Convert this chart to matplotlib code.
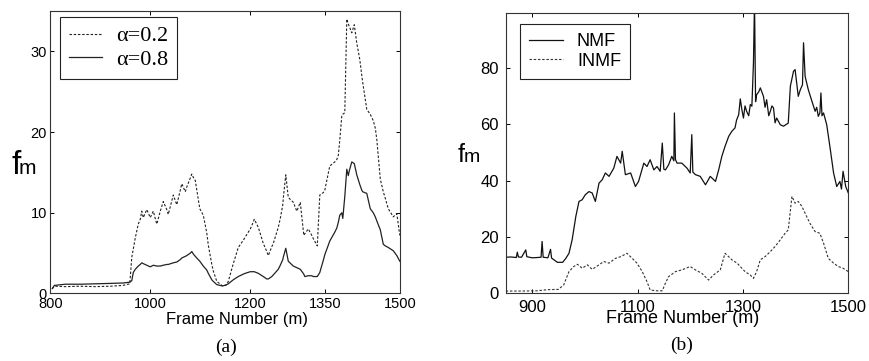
import matplotlib
matplotlib.use("Agg")
import matplotlib.pyplot as plt

# ---- panel (a): f_m for two alpha values ----
frames_a = [804, 808, 830, 860, 890, 920, 945, 959, 963, 966, 970, 976, 980, 983, 986,
            993, 1000, 1006, 1013, 1020, 1026, 1033, 1036, 1046, 1053, 1060, 1063, 1070,
            1073, 1080, 1083, 1086, 1090, 1099, 1106, 1113, 1116, 1123, 1126, 1133, 1143,
            1146, 1153, 1156, 1166, 1176, 1186, 1190, 1200, 1203, 1208, 1216, 1226, 1233,
            1236, 1243, 1246, 1256, 1260, 1265, 1266, 1271, 1276, 1286, 1293, 1300, 1307,
            1309, 1316, 1323, 1326, 1333, 1334, 1339, 1346, 1349, 1359, 1369, 1373, 1376,
            1379, 1383, 1385, 1389, 1393, 1396, 1398, 1403, 1408, 1413, 1419, 1423, 1425,
            1433, 1440, 1446, 1450, 1453, 1460, 1466, 1470, 1476, 1486, 1493, 1499]
alpha_08 = [0.6, 1.0, 1.15, 1.15, 1.2, 1.25, 1.3, 1.4, 1.6, 2.6, 3.0, 3.4, 3.6, 3.8, 3.7,
            3.5, 3.3, 3.5, 3.4, 3.4, 3.5, 3.6, 3.6, 3.8, 3.9, 4.2, 4.4, 4.6,
            4.7, 5.0, 5.2, 4.9, 4.6, 4.0, 3.4, 2.9, 2.5, 1.7, 1.5, 1.1, 0.95,
            0.95, 1.1, 1.2, 1.7, 2.1, 2.4, 2.5, 2.7, 2.7, 2.7, 2.5, 2.1, 1.8,
            1.8, 2.1, 2.3, 3.0, 3.5, 4.2, 4.5, 5.6, 4.0, 3.4, 3.2, 3.0, 2.4,
            2.1, 2.2, 2.2, 2.1, 2.1, 2.1, 2.6, 4.1, 4.8, 6.5, 7.6, 8.1, 8.8,
            9.7, 10.0, 9.3, 12.0, 15.4, 14.6, 15.2, 16.3, 16.1, 14.7, 13.5, 12.8, 12.6,
            12.4, 10.5, 10.0, 9.5, 9.0, 7.9, 6.1, 5.9, 5.7, 5.3, 4.7, 4.0]
alpha_02 = [0.6, 0.9, 0.85, 0.9, 0.85, 0.9, 1.0, 1.2, 4.5, 5.5, 6.9, 8.6, 9.2, 10.2, 9.4,
            10.4, 9.4, 10.2, 8.6, 10.2, 11.4, 10.4, 9.8, 12.2, 11.0, 12.8, 13.6, 12.6,
            13.2, 14.3, 14.8, 14.4, 14.0, 10.5, 9.7, 7.5, 6.0, 3.6, 2.8, 1.5, 1.0,
            0.9, 1.1, 1.5, 3.7, 5.7, 6.6, 7.0, 8.0, 8.4, 9.2, 8.2, 6.2, 5.2,
            4.7, 5.8, 6.2, 8.2, 9.3, 11.0, 11.8, 14.7, 11.9, 11.3, 10.2, 11.3, 7.2,
            7.4, 8.0, 7.2, 6.8, 6.0, 5.9, 12.2, 12.5, 12.8, 15.8, 16.3, 16.6, 17.1,
            19.0, 22.0, 22.2, 22.4, 34.0, 33.4, 33.1, 32.3, 33.3, 31.0, 29.0, 27.0, 26.1,
            22.8, 22.2, 21.4, 20.5, 19.1, 14.2, 12.6, 11.8, 10.5, 9.5, 9.9, 7.2]

# ---- panel (b): NMF vs INMF ----
frames_nmf = [850, 860, 870, 872, 874, 880, 888, 890, 900, 910, 917, 919, 921, 930, 935,
              937, 948, 958, 964, 970, 976, 983, 989, 995, 1001, 1008, 1014, 1020, 1027,
              1033, 1039, 1046, 1055, 1061, 1068, 1071, 1077, 1087, 1096, 1102, 1112,
              1118, 1124, 1131, 1137, 1143, 1147, 1150, 1153, 1159, 1165, 1169, 1170,
              1172, 1175, 1184, 1194, 1200, 1203, 1205, 1210, 1219, 1229, 1238, 1248,
              1254, 1260, 1266, 1273, 1279, 1285, 1288, 1292, 1295, 1298, 1301, 1304,
              1307, 1311, 1314, 1317, 1320, 1322, 1324, 1326, 1330, 1333, 1339, 1342,
              1345, 1349, 1352, 1355, 1358, 1361, 1364, 1371, 1377, 1386, 1390, 1396,
              1399, 1405, 1409, 1413, 1415, 1418, 1424, 1431, 1437, 1440, 1443, 1446,
              1448, 1450, 1453, 1459, 1465, 1472, 1478, 1484, 1487, 1490, 1495, 1500]
nmf = [12.8, 12.9, 12.7, 14.6, 12.9, 12.8, 15.4, 13.0, 12.6, 12.7, 12.8, 18.4, 12.8, 12.6, 15.6,
       12.5, 11.0, 11.0, 12.4, 14.2, 19.0, 27.3, 32.6, 33.2, 35.0, 36.1, 35.6, 32.6, 39.1,
       40.3, 42.7, 41.5, 44.4, 48.6, 46.2, 50.4, 42.1, 42.7, 37.9, 39.7, 46.2,
       45.0, 47.4, 43.8, 45.0, 43.3, 53.3, 44.0, 43.8, 45.6, 48.6, 47.0, 64.0,
       47.5, 46.2, 46.2, 44.4, 42.7, 56.3, 43.0, 42.1, 41.5, 38.5, 41.5, 39.7,
       43.8, 48.6, 52.1, 55.7, 57.5, 58.7, 61.5, 63.4, 69.0, 65.2, 62.2, 66.5,
       64.6, 63.0, 67.0, 66.4, 81.8, 104.0, 68.0, 70.5, 71.5, 72.9, 69.9, 66.0,
       68.7, 63.0, 64.6, 66.5, 65.8, 60.5, 62.2, 59.8, 59.3, 60.4, 73.5, 78.8,
       79.4, 69.9, 72.3, 74.0, 88.9, 77.0, 72.3, 68.1, 64.6, 66.0, 62.8, 64.0,
       71.1, 63.0, 64.0, 59.8, 52.1, 42.7, 37.9, 39.7, 37.0, 43.3, 37.9, 35.6]

frames_inmf = [850, 880, 910, 930, 950, 960, 970, 979, 986, 995, 1005, 1014, 1027, 1036,
               1046, 1058, 1068, 1080, 1090, 1099, 1109, 1118, 1124, 1134, 1147, 1153,
               1159, 1172, 1184, 1200, 1210, 1222, 1235, 1244, 1257, 1266, 1273, 1279,
               1289, 1295, 1304, 1314, 1320, 1326, 1333, 1342, 1352, 1361, 1371, 1380,
               1386, 1393, 1399, 1405, 1412, 1418, 1427, 1437, 1446, 1453, 1462, 1472,
               1481, 1490, 1500]
inmf = [0.8, 0.8, 0.9, 1.3, 1.4, 3.0, 7.7, 9.5, 10.3, 8.9, 10.1, 8.5, 10.1, 11.3,
        10.7, 12.4, 13.0, 14.2, 12.4, 10.7, 7.7, 4.1, 1.2, 0.9, 0.9, 3.6,
        5.9, 7.7, 8.3, 9.5, 8.3, 7.1, 4.7, 6.5, 8.3, 14.2, 13.0, 11.9,
        10.7, 9.5, 7.7, 6.5, 5.3, 7.7, 11.9, 13.0, 14.8, 16.6, 19.0, 21.3,
        22.5, 34.4, 32.0, 32.6, 30.8, 28.4, 24.9, 21.9, 21.3, 17.8, 12.4, 10.7,
        9.5, 8.9, 7.7]

sans = ["Liberation Sans", "DejaVu Sans"]
serif = ["Liberation Serif", "DejaVu Serif"]
dash = (0, (2.2, 1.6))

fig = plt.figure(figsize=(8.7, 3.61), dpi=100)
ax1 = fig.add_axes([0.0578, 0.187, 0.4023, 0.7825])
ax2 = fig.add_axes([0.5813, 0.1875, 0.3938, 0.7775])

# (a)
ax1.plot(frames_a, alpha_02, color="#222222", lw=0.8, ls=dash, label="α=0.2")
ax1.plot(frames_a, alpha_08, color="#222222", lw=0.9, label="α=0.8")
ax1.set_xlim(800, 1500)
ax1.set_ylim(0, 35)
ax1.set_xticks([800, 1000, 1200, 1350, 1500])
ax1.set_yticks([0, 10, 20, 30])
ax1.tick_params(direction="in", top=True, right=True, length=3, width=0.7,
                labelsize=10.5, pad=2.5)
leg1 = ax1.legend(loc="upper left", bbox_to_anchor=(0.028, 0.979), frameon=True,
                  fancybox=False, edgecolor="#222222", framealpha=1,
                  prop={"family": serif, "size": 16}, handlelength=1.5,
                  handletextpad=0.6, borderpad=0.4, labelspacing=0.15,
                  borderaxespad=0)
leg1.get_frame().set_linewidth(0.8)
ax1.set_xlabel("Frame Number (m)", family=sans, fontsize=12)
ax1.xaxis.set_label_coords(0.533, -0.066)
fig.text(11.5 / 870, 1 - 174 / 361, "f", family=sans, fontsize=24, va="baseline")
fig.text(19 / 870, 1 - 174 / 361, "m", family=sans, fontsize=15, va="baseline")
fig.text(226 / 870, 1 - 347 / 361, "(a)", family=serif, fontsize=14,
         ha="center", va="center")

# (b)
ax2.plot(frames_nmf, nmf, color="#111111", lw=0.9, label="NMF")
ax2.plot(frames_inmf, inmf, color="#333333", lw=0.8, ls=dash, label="INMF")
ax2.set_xlim(850, 1500)
ax2.set_ylim(0, 99.6)
ax2.set_xticks([900, 1100, 1300, 1500])
ax2.set_yticks([0, 20, 40, 60, 80])
ax2.tick_params(direction="in", top=True, right=True, length=3, width=0.7,
                labelsize=12, pad=5)
leg2 = ax2.legend(loc="upper left", bbox_to_anchor=(0.042, 0.96), frameon=True,
                  fancybox=False, edgecolor="#222222", framealpha=1,
                  prop={"family": sans, "size": 13}, handlelength=1.85,
                  handletextpad=0.8, borderpad=0.5, labelspacing=0.15,
                  borderaxespad=0)
leg2.get_frame().set_linewidth(0.8)
ax2.set_xlabel("Frame Number (m)", family=sans, fontsize=13)
ax2.xaxis.set_label_coords(0.517, -0.058)
fig.text(457.5 / 870, 1 - 162 / 361, "f", family=sans, fontsize=18, va="baseline")
fig.text(463.5 / 870, 1 - 162 / 361, "m", family=sans, fontsize=14, va="baseline")
fig.text(682 / 870, 1 - 345 / 361, "(b)", family=serif, fontsize=14,
         ha="center", va="center")

for ax in (ax1, ax2):
    for sp in ax.spines.values():
        sp.set_linewidth(0.8)
        sp.set_color("#333333")
    for lab in ax.get_xticklabels() + ax.get_yticklabels():
        lab.set_family(sans)

fig.savefig("out.png", dpi=100)
